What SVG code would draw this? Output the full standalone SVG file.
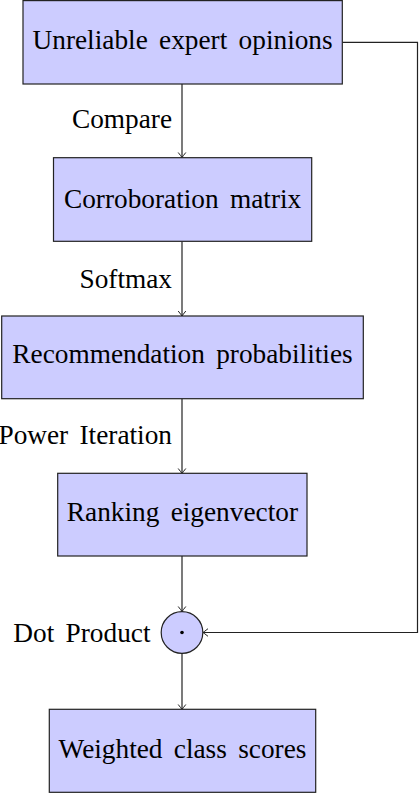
<svg xmlns="http://www.w3.org/2000/svg" width="420" height="794" viewBox="0 0 420 794">
<style>
.box{fill:#ccccff;stroke:#222;stroke-width:1.2}
.t{font-family:'Liberation Serif','Times New Roman',serif;font-size:27.3px;fill:#000;word-spacing:4.5px}
.c{stroke:#222;stroke-width:1.2;fill:none}
</style>
<defs>
<marker id="ah" viewBox="-6 -5 7 10" refX="0" refY="0" markerWidth="7" markerHeight="10" markerUnits="userSpaceOnUse" orient="auto">
<path d="M-5,-3.8 Q-1.2,-0.8 0,0 Q-1.2,0.8 -5,3.8" fill="none" stroke="#222" stroke-width="1"/>
</marker>
</defs>
<rect width="420" height="794" fill="#fff"/>
<g id="connectors">
<line class="c" x1="182" y1="84" x2="182" y2="157.5" marker-end="url(#ah)"/>
<line class="c" x1="182" y1="241.5" x2="182" y2="316" marker-end="url(#ah)"/>
<line class="c" x1="182" y1="399" x2="182" y2="473.5" marker-end="url(#ah)"/>
<line class="c" x1="182" y1="556" x2="182" y2="611.5" marker-end="url(#ah)"/>
<line class="c" x1="182" y1="653.5" x2="182" y2="709.5" marker-end="url(#ah)"/>
<polyline class="c" points="342.5,42.3 417.5,42.3 417.5,632.5 203,632.5" marker-end="url(#ah)"/>
<text class="t" x="172" y="127.7" text-anchor="end">Compare</text>
<text class="t" x="172" y="288.3" text-anchor="end">Softmax</text>
<text class="t" x="172" y="444.3" text-anchor="end">Power Iteration</text>
</g>
<g id="n1">
<rect class="box" x="23" y="0.6" width="319.3" height="83.4"/>
<text class="t" x="182.6" y="49.3" text-anchor="middle">Unreliable expert opinions</text>
</g>
<g id="n2">
<rect class="box" x="53.5" y="157.7" width="258.2" height="83.6"/>
<text class="t" x="182.6" y="208" text-anchor="middle">Corroboration matrix</text>
</g>
<g id="n3">
<rect class="box" x="1.7" y="316" width="361.6" height="82.7"/>
<text class="t" x="182.5" y="363.3" text-anchor="middle">Recommendation probabilities</text>
</g>
<g id="n4">
<rect class="box" x="57.7" y="473.3" width="249.3" height="82.7"/>
<text class="t" x="182.4" y="520.7" text-anchor="middle">Ranking eigenvector</text>
</g>
<g id="n5">
<circle class="box" cx="182" cy="632.5" r="20.8"/>
<circle cx="182" cy="632.5" r="1.8" fill="#000"/>
<text class="t" x="150.5" y="641.7" text-anchor="end">Dot Product</text>
</g>
<g id="n6">
<rect class="box" x="49.3" y="709.3" width="266.4" height="83"/>
<text class="t" x="182.5" y="757.7" text-anchor="middle">Weighted class scores</text>
</g>
</svg>
